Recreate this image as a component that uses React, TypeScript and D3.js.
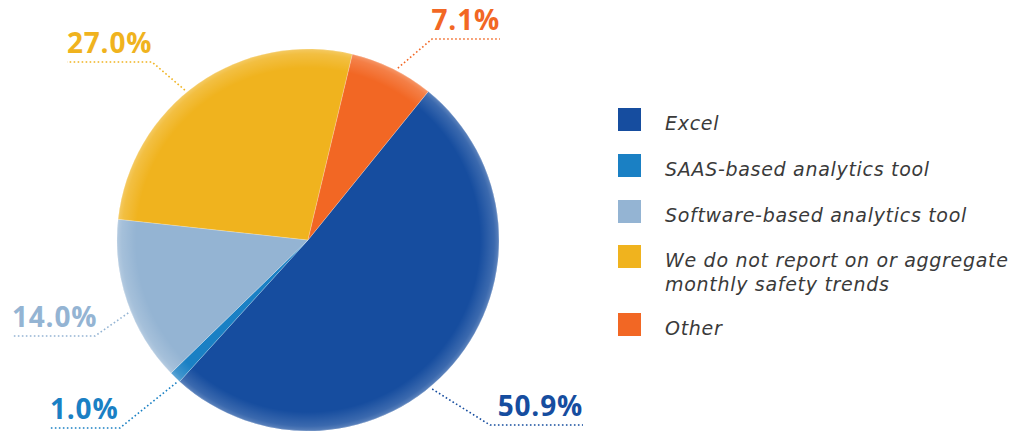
import { useEffect, useRef } from "react";
import * as d3 from "d3";

// slice data, in drawing order (clockwise, Excel first)
const categories = [
  "Excel",
  "SAAS-based analytics tool",
  "Software-based analytics tool",
  "We do not report on or aggregate monthly safety trends",
  "Other",
];
const values = [50.9, 1.0, 14.0, 27.0, 7.1];
const colors = ["#164d9f", "#1a80c4", "#94b4d3", "#f0b31e", "#f26724"];
const legendLines = [
  ["Excel"],
  ["SAAS-based analytics tool"],
  ["Software-based analytics tool"],
  ["We do not report on or aggregate", "monthly safety trends"],
  ["Other"],
];

// label placement (layout only): rim angle of the leader, elbow, line end, text anchor side
const labelLayout = [
  { angle: 140.2, elbow: [490, 425], end: 583, anchor: "end" },
  { angle: 222.7, elbow: [120, 428], end: 50, anchor: "start" },
  { angle: 247.9, elbow: [95, 336], end: 12, anchor: "start" },
  { angle: 320.6, elbow: [152, 62], end: 67, anchor: "start" },
  { angle: 27.6, elbow: [432, 39], end: 500, anchor: "end" },
];

const W = 1019;
const H = 431;
const cx = 300; // svg is offset by body margin (8px)
const cy = 232;
const R = 191;
const startDeg = 39;

export default function App() {
  const ref = useRef<SVGSVGElement>(null);

  useEffect(() => {
    const svg = d3.select(ref.current);
    svg.selectAll("*").remove();

    const defs = svg.append("defs");
    const glow = defs
      .append("radialGradient")
      .attr("id", "rim")
      .attr("cx", "50%")
      .attr("cy", "50%")
      .attr("r", "50%");
    glow.append("stop").attr("offset", "0.9").attr("stop-color", "#fff").attr("stop-opacity", 0);
    glow.append("stop").attr("offset", "0.975").attr("stop-color", "#fff").attr("stop-opacity", 0.16);
    glow.append("stop").attr("offset", "1").attr("stop-color", "#fff").attr("stop-opacity", 0.3);

    const toRad = (d: number) => (d * Math.PI) / 180;
    const pie = d3
      .pie<number>()
      .sort(null)
      .value((d) => d)
      .startAngle(toRad(startDeg))
      .endAngle(toRad(startDeg + 360));
    const arcs = pie(values);
    const arc = d3.arc<d3.PieArcDatum<number>>().innerRadius(0).outerRadius(R);

    const g = svg.append("g").attr("transform", `translate(${cx},${cy})`);
    g.selectAll("path.slice")
      .data(arcs)
      .join("path")
      .attr("class", "slice")
      .attr("d", arc)
      .attr("fill", (_, i) => colors[i])
      .attr("stroke", "rgba(255,255,255,0.35)")
      .attr("stroke-width", 0.6);
    g.append("circle").attr("r", R).attr("fill", "url(#rim)");

    // leaders and percentage labels
    const labels = svg.append("g");
    arcs.forEach((a, i) => {
      const L = labelLayout[i];
      const [px, py] = d3.pointRadial(toRad(L.angle), R + 3);
      const p0: [number, number] = [cx + px, cy + py];
      const e: [number, number] = [L.elbow[0] - 8, L.elbow[1] - 8];
      const p2: [number, number] = [L.end - 8, e[1]];
      labels
        .append("path")
        .attr("d", d3.line()([p0, e, p2]))
        .attr("fill", "none")
        .attr("stroke", colors[i])
        .attr("stroke-width", 1.6)
        .attr("stroke-dasharray", "1.6 2.4");
      labels
        .append("text")
        .attr("x", p2[0])
        .attr("y", e[1] - 9)
        .attr("text-anchor", L.anchor)
        .attr("fill", colors[i])
        .attr("font-family", "'Open Sans', sans-serif")
        .attr("font-weight", 700)
        .attr("font-size", 28)
        .attr("letter-spacing", 0.8)
        .text(`${a.data.toFixed(1)}%`);
    });

    // legend
    const legend = svg.append("g").attr("transform", "translate(610,100)");
    const rowY = [0, 46, 92, 137, 205];
    categories.forEach((c, i) => {
      const row = legend.append("g").attr("transform", `translate(0,${rowY[i]})`).attr("aria-label", c);
      row.append("rect").attr("width", 23).attr("height", 23).attr("fill", colors[i]);
      legendLines[i].forEach((t, j) => {
        row
          .append("text")
          .attr("x", 47)
          .attr("y", 22 + j * 24)
          .attr("fill", "#3a3a3a")
          .attr("font-family", "'DejaVu Sans', sans-serif")
          .attr("font-style", "italic")
          .attr("font-size", 19)
          .attr("letter-spacing", 0.7)
          .text(t);
      });
    });
  }, []);

  return <svg ref={ref} width={W - 16} height={H - 8} style={{ display: "block", overflow: "visible" }} />;
}
